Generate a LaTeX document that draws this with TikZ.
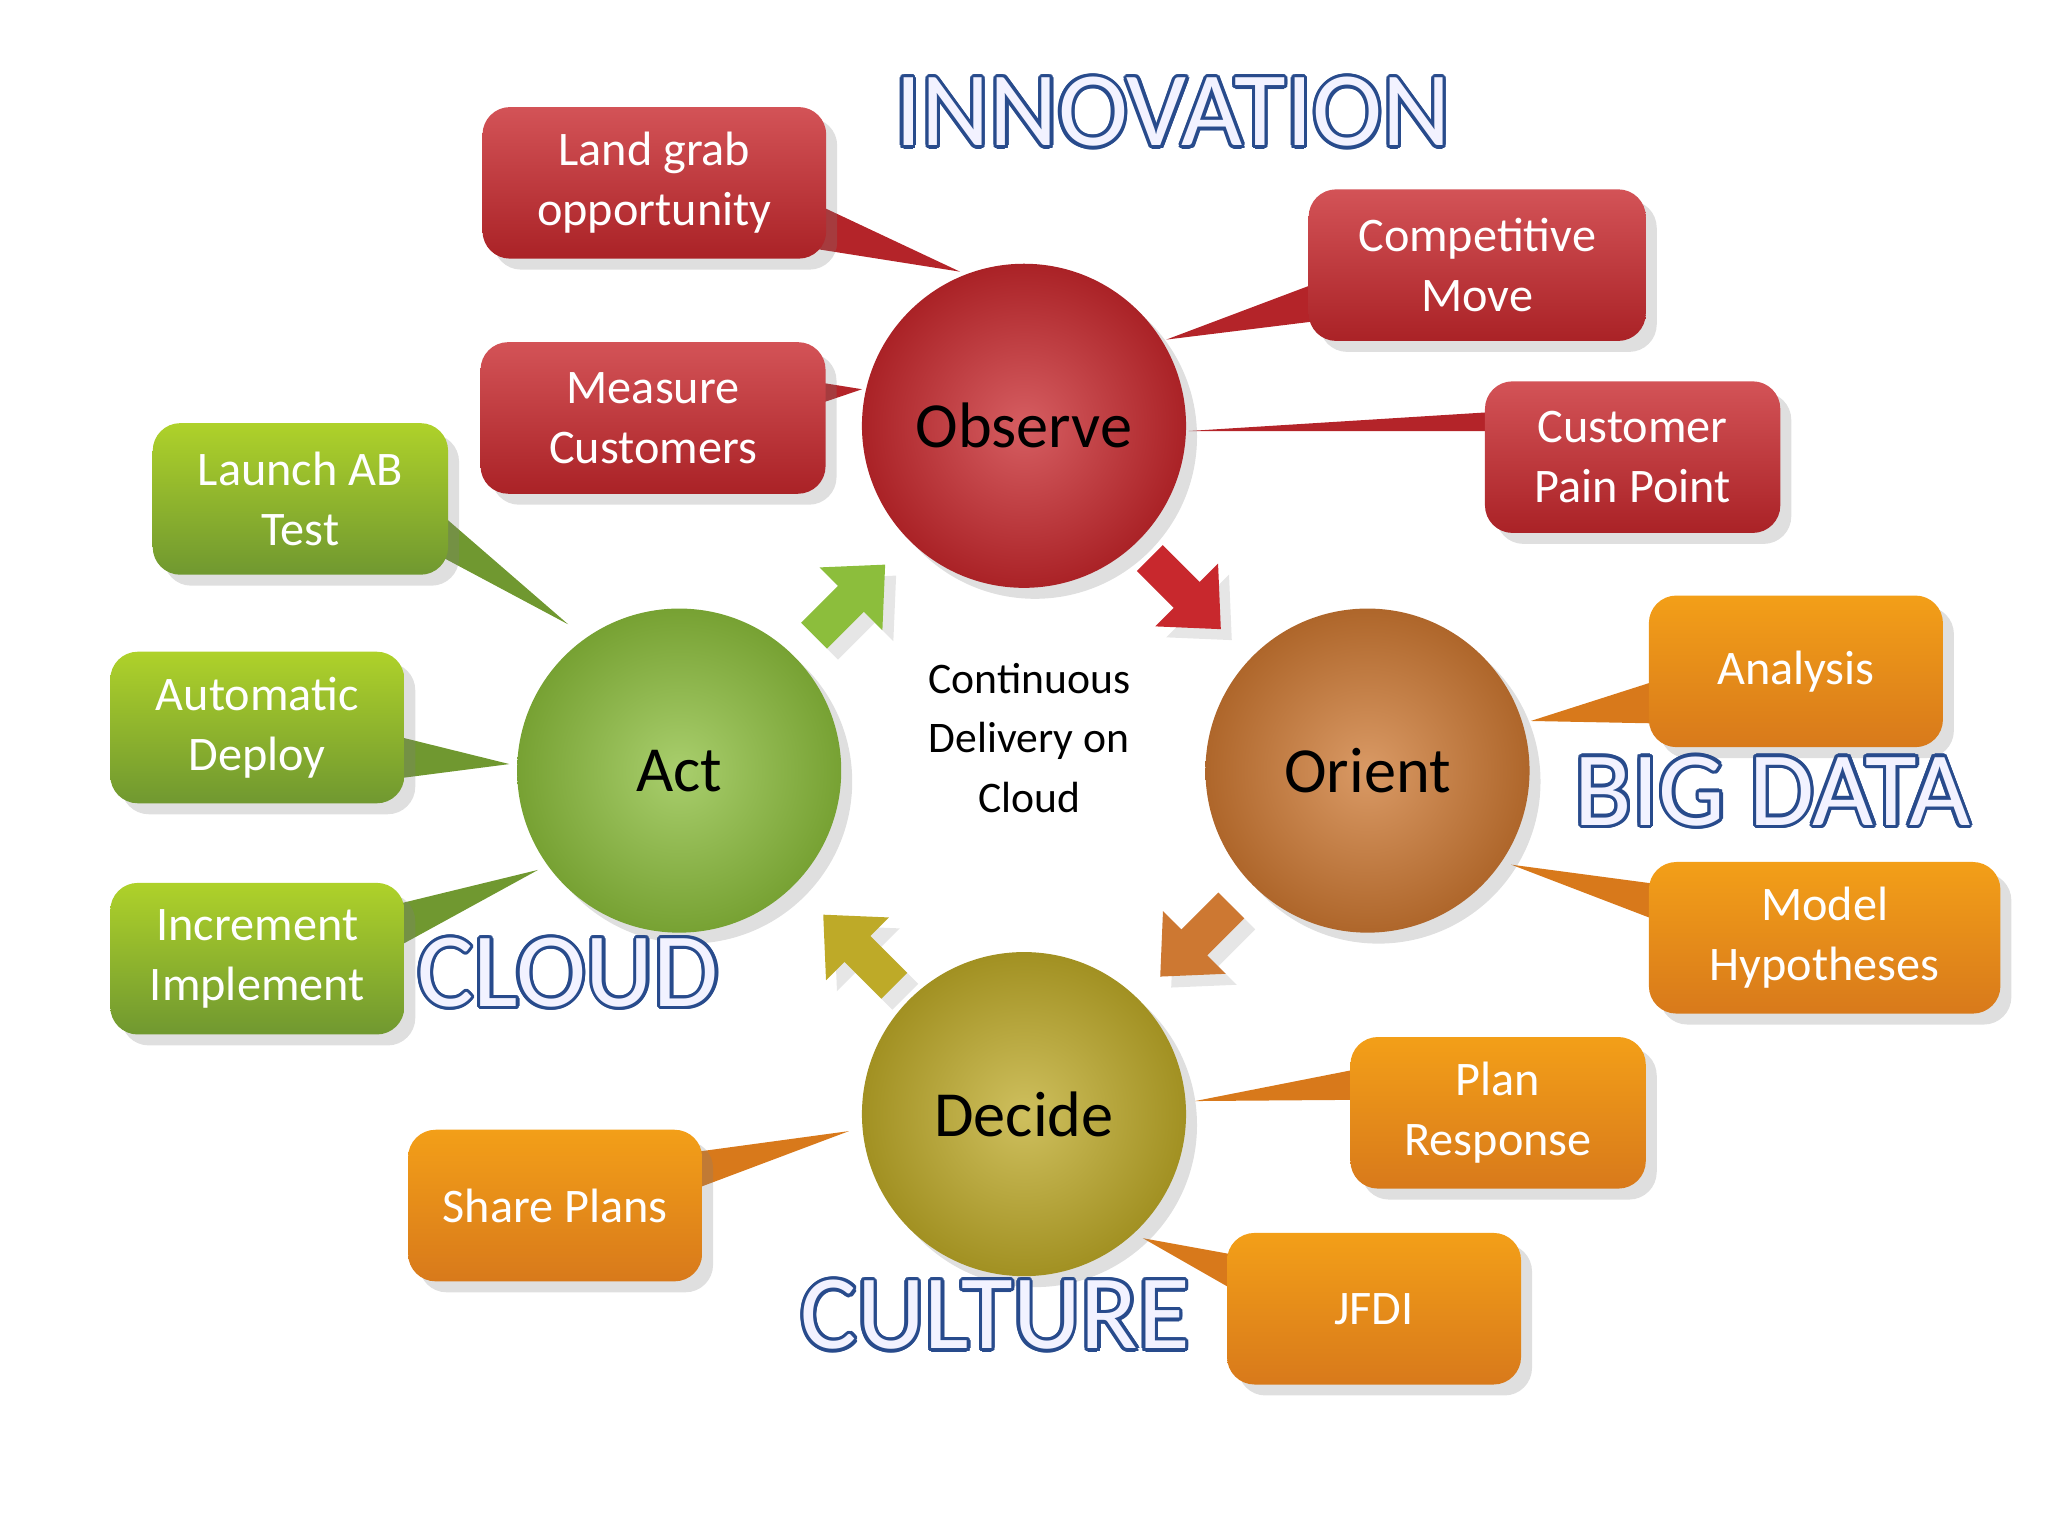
\documentclass[tikz,border=0pt]{standalone}
\usepackage{fontspec}
\setmainfont{Carlito}
\usepackage{contour}
\contourlength{0.7pt}
\contournumber{16}
\usetikzlibrary{shadows,calc}
\definecolor{rc}{RGB}{200,40,45}
\definecolor{oc}{RGB}{240,135,30}
\definecolor{gc}{RGB}{140,190,60}
\definecolor{bc}{RGB}{205,120,50}
\definecolor{dc}{RGB}{190,170,40}
\definecolor{ob}{RGB}{40,75,140}
\tikzset{
 box/.style={rounded corners=6pt,minimum width=2.3cm,minimum height=1.16cm,align=center,text=white,font=\fontsize{10.5}{13}\selectfont,drop shadow={opacity=0.25}},
 rbox/.style={box,top color=rc!80!white,bottom color=rc!85!black},
 obox/.style={box,top color=oc!80!yellow,bottom color=oc!90!black},
 gbox/.style={box,top color=gc!70!yellow,bottom color=gc!80!black},
 circ/.style={circle,minimum size=2.48cm,font=\fontsize{14}{16}\selectfont,drop shadow={opacity=0.25}},
 big/.style={font=\fontsize{23}{26}\selectfont}
}
\newcommand{\tl}[5]{\fill[#1] ($(#2)+(#3)$) -- (#5) -- ($(#2)+(#4)$) -- cycle;}
\newcommand{\barr}[3]{\begin{scope}[shift={(#2)},rotate=#3]
\fill[#1,drop shadow={opacity=0.2}] (-35,-14)--(5,-14)--(5,-34)--(42,0)--(5,34)--(5,14)--(-35,14)--cycle;
\end{scope}}
\begin{document}
\begin{tikzpicture}[x=0.01cm,y=-0.01cm]
\useasboundingbox (0,0) rectangle (1568,1176);
\coordinate (t1) at (735,208); \coordinate (t2) at (660,298);
\coordinate (t3) at (893,260); \coordinate (t4) at (910,330);
\coordinate (t5) at (1172,552); \coordinate (t6) at (1157,662);
\coordinate (t7) at (915,843); \coordinate (t8) at (875,948);
\coordinate (t9) at (650,866); \coordinate (t10) at (435,478);
\coordinate (t11) at (390,585); \coordinate (t12) at (412,666);
\coordinate (p1) at (501,140); \coordinate (p2) at (500,320);
\coordinate (p3) at (1131,203); \coordinate (p4) at (1250,350);
\coordinate (p5) at (1375,514); \coordinate (p6) at (1397,718);
\coordinate (p7) at (1147,852); \coordinate (p8) at (1052,1002);
\coordinate (p9) at (425,923); \coordinate (p10) at (230,382);
\coordinate (p11) at (197,557); \coordinate (p12) at (197,734);
\tl{rc!90!black}{p1}{100,5}{120,50}{t1}
\tl{rc!90!black}{p2}{110,-30}{110,-5}{t2}
\tl{rc!90!black}{p3}{-100,5}{-100,40}{t3}
\tl{rc!90!black}{p4}{-100,-35}{-100,-20}{t4}
\tl{oc!90!black}{p5}{-100,5}{-100,40}{t5}
\tl{oc!90!black}{p6}{-120,-40}{-120,-10}{t6}
\tl{oc!90!black}{p7}{-100,-35}{-100,-10}{t7}
\tl{oc!90!black}{p8}{-100,-40}{-100,-10}{t8}
\tl{oc!90!black}{p9}{100,-40}{100,-10}{t9}
\tl{gc!80!black}{p10}{100,5}{100,40}{t10}
\tl{gc!80!black}{p11}{100,5}{100,40}{t11}
\tl{gc!80!black}{p12}{100,-40}{100,-5}{t12}
\node[rbox,minimum width=2.63cm] (b1) at (p1) {Land grab\\opportunity};
\node[rbox,minimum width=2.64cm] (b2) at (p2) {Measure\\Customers};
\node[rbox,minimum width=2.58cm] (b3) at (p3) {Competitive\\Move};
\node[rbox,minimum width=2.26cm] (b4) at (p4) {Customer\\Pain Point};
\node[obox,minimum width=2.25cm] (b5) at (p5) {Analysis};
\node[obox,minimum width=2.69cm] (b6) at (p6) {Model\\Hypotheses};
\node[obox,minimum width=2.26cm] (b7) at (p7) {Plan\\Response};
\node[obox,minimum width=2.25cm] (b8) at (p8) {JFDI};
\node[obox,minimum width=2.25cm] (b9) at (p9) {Share Plans};
\node[gbox,minimum width=2.26cm] (b10) at (p10) {Launch AB\\Test};
\node[gbox,minimum width=2.25cm] (b11) at (p11) {Automatic\\Deploy};
\node[gbox,minimum width=2.25cm] (b12) at (p12) {Increment\\Implement};
\node[circ,inner color=rc!75!white,outer color=rc!85!black] (obs) at (784,326) {Observe};
\node[circ,inner color=bc!75!white,outer color=bc!85!black] (ori) at (1047,590) {Orient};
\node[circ,inner color=dc!75!white,outer color=dc!85!black] (dec) at (784,853) {Decide};
\node[circ,inner color=gc!75!white,outer color=gc!85!black] (act) at (520,590) {Act};
\node[align=center,font=\fontsize{9.5}{13}\selectfont] (ctr) at (788,565) {Continuous\\Delivery on\\Cloud};
\barr{rc}{905,452}{-45}
\barr{bc}{918,718}{-135}
\barr{dc}{660,730}{135}
\barr{gc}{648,462}{45}
\node[big] (w1) at (898,87) {\contour{ob}{\color{blue!5}INNOVATION}};
\node[big] (w2) at (1357,607) {\contour{ob}{\color{blue!5}BIG DATA}};
\node[big] (w3) at (435,746) {\contour{ob}{\color{blue!5}CLOUD}};
\node[big] (w4) at (762,1008) {\contour{ob}{\color{blue!5}CULTURE}};
\end{tikzpicture}
\end{document}
